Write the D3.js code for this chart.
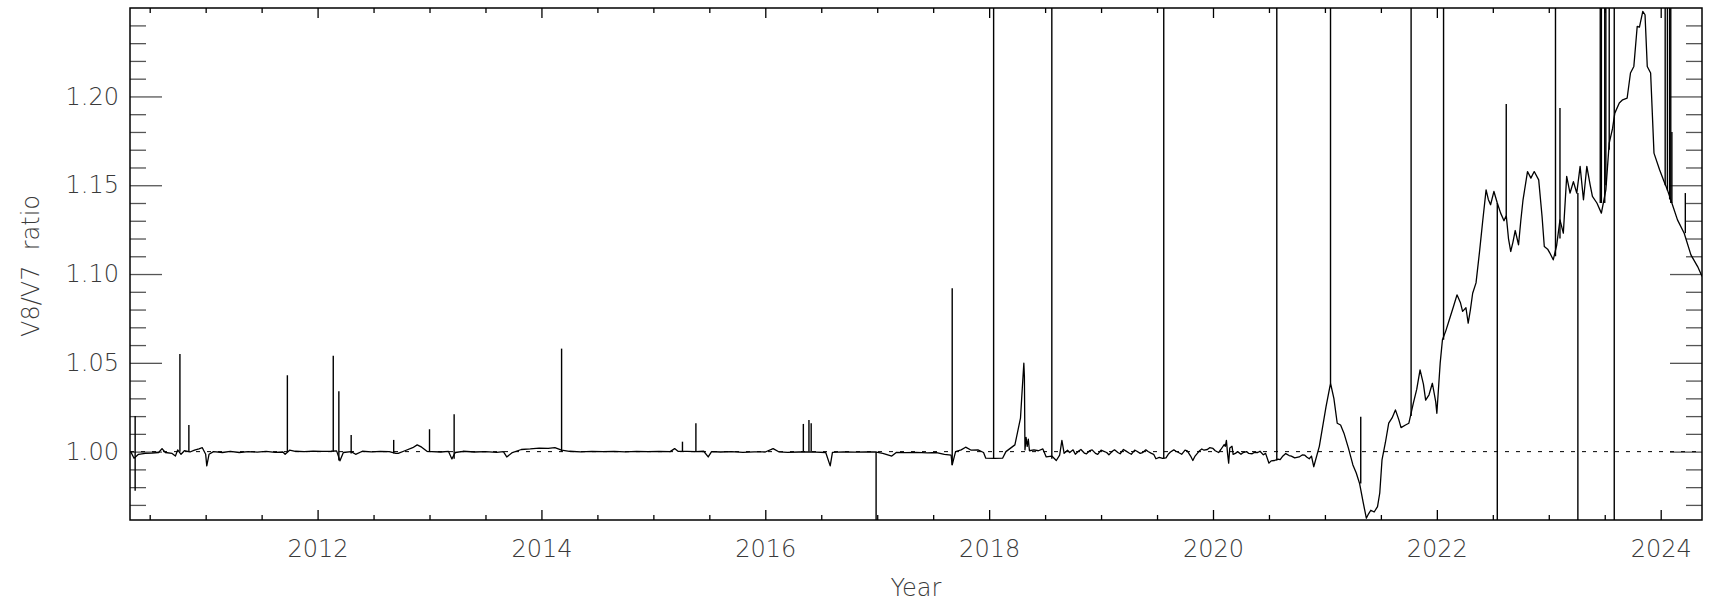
<!DOCTYPE html>
<html>
<head>
<meta charset="utf-8">
<script src="https://cdn.jsdelivr.net/npm/d3@7"></script>
<style>
  html, body { margin: 0; padding: 0; background: #fff; }
  svg { display: block; }
  text { font-family: 'DejaVu Sans', sans-serif; }
</style>
</head>
<body>
<svg id="chart" width="1713" height="603"></svg>
<script>
// V8/V7 ratio, decimal year vs ratio
const years = [
  2010.33, 2010.36, 2010.40, 2010.46, 2010.52, 2010.58, 2010.61, 2010.64, 2010.70, 2010.73,
  2010.75, 2010.78, 2010.81, 2010.86, 2010.90, 2010.94, 2010.97, 2011.00, 2011.01, 2011.03,
  2011.07, 2011.15, 2011.22, 2011.30, 2011.38, 2011.46, 2011.54, 2011.62, 2011.69, 2011.71,
  2011.75, 2011.80, 2011.88, 2011.96, 2012.04, 2012.12, 2012.17, 2012.20, 2012.23, 2012.30,
  2012.34, 2012.40, 2012.48, 2012.56, 2012.64, 2012.70, 2012.72, 2012.78, 2012.85, 2012.89,
  2012.93, 2012.98, 2013.02, 2013.10, 2013.17, 2013.20, 2013.23, 2013.30, 2013.40, 2013.50,
  2013.60, 2013.66, 2013.69, 2013.74, 2013.82, 2013.90, 2013.98, 2014.06, 2014.12, 2014.18,
  2014.25, 2014.35, 2014.45, 2014.55, 2014.65, 2014.75, 2014.85, 2014.95, 2015.05, 2015.15,
  2015.19, 2015.22, 2015.30, 2015.38, 2015.45, 2015.49, 2015.52, 2015.60, 2015.70, 2015.80,
  2015.90, 2016.00, 2016.07, 2016.12, 2016.20, 2016.30, 2016.38, 2016.45, 2016.54, 2016.58,
  2016.60, 2016.70, 2016.80, 2016.90, 2016.98, 2017.05, 2017.13, 2017.17, 2017.25, 2017.35,
  2017.45, 2017.53, 2017.60, 2017.66, 2017.67, 2017.70, 2017.75, 2017.79, 2017.84, 2017.90,
  2017.95, 2017.97, 2018.05, 2018.12, 2018.15, 2018.23, 2018.28, 2018.29, 2018.31, 2018.315,
  2018.32, 2018.33, 2018.34, 2018.35, 2018.36, 2018.40, 2018.44, 2018.48, 2018.51, 2018.56,
  2018.60, 2018.63, 2018.65,
  2018.67, 2018.70, 2018.72, 2018.75, 2018.77, 2018.80, 2018.82, 2018.85, 2018.87, 2018.90,
  2018.92, 2018.95, 2018.97, 2019.00, 2019.02, 2019.05, 2019.07, 2019.10, 2019.12, 2019.15,
  2019.17, 2019.20, 2019.22, 2019.25, 2019.27, 2019.30, 2019.32, 2019.35, 2019.37, 2019.40,
  2019.42, 2019.45, 2019.47, 2019.49, 2019.52, 2019.55, 2019.58, 2019.60, 2019.62, 2019.65,
  2019.67, 2019.70, 2019.72, 2019.75, 2019.77, 2019.80, 2019.82, 2019.84, 2019.86, 2019.88,
  2019.90, 2019.92, 2019.95, 2019.97, 2020.00, 2020.02, 2020.05, 2020.07, 2020.10, 2020.11,
  2020.12, 2020.13, 2020.14, 2020.15, 2020.17, 2020.18, 2020.20, 2020.22, 2020.25, 2020.27,
  2020.30, 2020.32, 2020.35, 2020.37, 2020.40, 2020.42, 2020.45, 2020.47, 2020.50, 2020.52,
  2020.55, 2020.58, 2020.60, 2020.62, 2020.65, 2020.68, 2020.70, 2020.73, 2020.77, 2020.80,
  2020.82, 2020.84, 2020.86, 2020.88, 2020.90, 2020.95,
  2021.01, 2021.05, 2021.08, 2021.11, 2021.14, 2021.17, 2021.21,
  2021.25, 2021.28, 2021.31, 2021.34, 2021.37, 2021.39, 2021.41, 2021.44, 2021.47, 2021.49,
  2021.51, 2021.54, 2021.57, 2021.60, 2021.63, 2021.66, 2021.68, 2021.72, 2021.75, 2021.79,
  2021.82, 2021.85, 2021.88, 2021.90, 2021.93, 2021.96, 2021.99, 2022.00, 2022.03, 2022.05,
  2022.08, 2022.11, 2022.15, 2022.18, 2022.21, 2022.23, 2022.26, 2022.28, 2022.30, 2022.32,
  2022.35, 2022.38, 2022.41, 2022.44, 2022.46, 2022.48, 2022.51, 2022.54, 2022.57, 2022.60,
  2022.62, 2022.64, 2022.66, 2022.68, 2022.70, 2022.73, 2022.75, 2022.77, 2022.81, 2022.84,
  2022.87, 2022.91, 2022.94, 2022.96, 2022.99, 2023.01, 2023.04, 2023.07, 2023.10, 2023.13,
  2023.16, 2023.19, 2023.22, 2023.25, 2023.28, 2023.31, 2023.34, 2023.37, 2023.39, 2023.43,
  2023.47, 2023.51, 2023.54, 2023.57, 2023.59, 2023.63, 2023.66, 2023.70, 2023.73, 2023.76,
  2023.79, 2023.81, 2023.84, 2023.86, 2023.88, 2023.91, 2023.94, 2023.99, 2024.03, 2024.06,
  2024.09, 2024.15, 2024.21, 2024.27, 2024.33, 2024.37
];
const ratio = [
  1.0000, 0.9963, 0.9985, 0.9990, 0.9992, 0.9995, 1.0017, 0.9995, 0.9990, 0.9975,
  1.0010, 0.9985, 1.0005, 0.9998, 1.0008, 1.0015, 1.0022, 0.9985, 0.9920, 0.9985,
  1.0000, 0.9995, 1.0002, 0.9995, 1.0000, 0.9997, 1.0001, 0.9996, 0.9998, 0.9985,
  1.0008, 1.0002, 1.0000, 1.0003, 1.0001, 1.0002, 1.0004, 0.9948, 0.9995, 1.0000,
  0.9985, 1.0002, 0.9999, 1.0001, 1.0000, 0.9990, 0.9990, 1.0005, 1.0022, 1.0038,
  1.0025, 1.0001, 1.0000, 0.9998, 1.0001, 0.9959, 0.9995, 1.0002, 0.9998, 1.0000,
  0.9996, 1.0000, 0.9970, 0.9995, 1.0012, 1.0015, 1.0020, 1.0018, 1.0022, 1.0008,
  1.0002, 0.9999, 1.0001, 1.0000, 1.0001, 0.9999, 1.0001, 1.0000, 1.0001, 1.0000,
  1.0017, 1.0002, 1.0001, 1.0000, 1.0002, 0.9970, 1.0000, 0.9998, 1.0000, 0.9996,
  0.9999, 0.9998, 1.0017, 0.9999, 0.9996, 0.9998, 0.9999, 0.9997, 0.9995, 0.9920,
  0.9996, 0.9999, 0.9997, 0.9999, 0.9998, 0.9990, 0.9975, 0.9995, 0.9994, 0.9996,
  0.9993, 0.9995, 0.9985, 0.9980, 0.9925, 1.0000, 1.0010, 1.0025, 1.0008, 1.0010,
  0.9995, 0.9963, 0.9962, 0.9963, 1.0000, 1.0038, 1.0188, 1.0294, 1.0498, 1.0423,
  1.0010, 1.0080, 1.0030, 1.0070, 1.0005, 1.0010, 1.0005, 1.0015, 0.9970, 0.9975,
  0.9950, 0.9980, 1.0063,
  0.9990, 1.0008, 0.9995, 1.0010, 0.9985, 1.0003, 1.0012, 0.9992, 0.9988, 1.0006,
  1.0010, 0.9990, 0.9985, 1.0008, 1.0003, 0.9995, 0.9982, 1.0002, 1.0010, 0.9995,
  0.9988, 1.0012, 1.0004, 0.9992, 0.9985, 1.0008, 1.0002, 0.9990, 0.9994, 1.0010,
  1.0001, 0.9990, 0.9985, 0.9960, 0.9968, 0.9962, 0.9965, 0.9985, 0.9998, 1.0010,
  1.0002, 0.9992, 0.9985, 1.0008, 1.0004, 0.9975, 0.9950, 0.9975, 0.9990, 1.0005,
  1.0015, 1.0008, 1.0012, 1.0022, 1.0018, 1.0005, 0.9995, 1.0012, 1.0040, 1.0030,
  1.0063, 0.9990, 0.9935, 1.0020, 1.0030, 0.9985, 0.9990, 1.0000, 0.9985, 0.9995,
  1.0000, 0.9990, 0.9988, 0.9996, 0.9995, 1.0002, 0.9982, 0.9990, 0.9935, 0.9948,
  0.9950, 0.9958, 0.9955, 0.9972, 0.9989, 0.9978, 0.9975, 0.9965, 0.9970, 0.9982,
  0.9980, 0.9968, 0.9960, 0.9975, 0.9915, 1.0030,
  1.0254, 1.0385, 1.0300, 1.0160, 1.0150, 1.0104, 1.0020,
  0.9925, 0.9880, 0.9820, 0.9720, 0.9625, 0.9650, 0.9670, 0.9660, 0.9690, 0.9767,
  0.9953, 1.0050, 1.0160, 1.0190, 1.0235, 1.0180, 1.0135, 1.0150, 1.0160, 1.0273,
  1.0350, 1.0460, 1.0380, 1.0290, 1.0320, 1.0385, 1.0280, 1.0216, 1.0500, 1.0630,
  1.0680, 1.0740, 1.0820, 1.0883, 1.0840, 1.0790, 1.0810, 1.0723, 1.0800, 1.0892,
  1.0950, 1.1118, 1.1300, 1.1474, 1.1420, 1.1390, 1.1465, 1.1400, 1.1343, 1.1300,
  1.1330, 1.1200, 1.1127, 1.1180, 1.1245, 1.1165, 1.1300, 1.1418, 1.1577, 1.1540,
  1.1577, 1.1530, 1.1324, 1.1155, 1.1140, 1.1118, 1.1080, 1.1160, 1.1305, 1.1230,
  1.1550, 1.1456, 1.1520, 1.1456, 1.1606, 1.1418, 1.1606, 1.1500, 1.1437, 1.1400,
  1.1343, 1.1474, 1.1737, 1.1820, 1.1906, 1.1963, 1.1981, 1.1990, 1.2132, 1.2169,
  1.2394, 1.2390, 1.2479, 1.2460, 1.2169, 1.2132, 1.1681, 1.1587, 1.1521, 1.1474,
  1.1418, 1.1305, 1.1230, 1.1108, 1.1042, 1.0986
];

// single-day outliers: date, low end, high end (ends past the frame get clipped)
const spikeYears = [
  2010.37, 2010.77, 2010.85, 2011.73, 2012.14, 2012.19, 2012.30, 2012.68, 2013.00, 2013.22,
  2014.18, 2015.26, 2015.38, 2016.34, 2016.39, 2016.41, 2016.99, 2017.67, 2018.04, 2018.56,
  2019.56, 2020.57, 2021.05, 2021.32, 2021.77, 2022.06, 2022.54, 2022.62, 2023.06, 2023.10,
  2023.26, 2023.46, 2023.47, 2023.50, 2023.51, 2023.54, 2023.585, 2024.04, 2024.06, 2024.08,
  2024.09, 2024.10, 2024.22
];
const spikeLow = [
  0.978, 1.000, 1.000, 1.000, 1.000, 0.995, 0.999, 0.999, 1.000, 0.996,
  1.000, 1.000, 1.000, 1.000, 1.000, 1.000, 0.950, 0.9925, 0.996, 0.996,
  0.996, 0.995, 1.0385, 0.982, 1.020, 1.063, 0.950, 1.133, 1.110, 1.120,
  0.950, 1.140, 1.140, 1.140, 1.150, 1.170, 0.950, 1.150, 1.147, 1.142,
  1.140, 1.140, 1.123
];
const spikeHigh = [
  1.020, 1.055, 1.015, 1.043, 1.054, 1.034, 1.0094, 1.0066, 1.0126, 1.021,
  1.058, 1.0056, 1.016, 1.0156, 1.0178, 1.016, 1.000, 1.092, 1.300, 1.300,
  1.300, 1.300, 1.300, 1.0197, 1.300, 1.300, 1.140, 1.1957, 1.300, 1.1935,
  1.1456, 1.300, 1.300, 1.300, 1.300, 1.300, 1.300, 1.300, 1.300, 1.300,
  1.300, 1.180, 1.1456
];

const xMajor = [2012, 2014, 2016, 2018, 2020, 2022, 2024];
const xMinor = [2010.5, 2011, 2011.5, 2012.5, 2013, 2013.5, 2014.5, 2015, 2015.5, 2016.5, 2017,
  2017.5, 2018.5, 2019, 2019.5, 2020.5, 2021, 2021.5, 2022.5, 2023, 2023.5];
const yMajor = [1.00, 1.05, 1.10, 1.15, 1.20];
const yMinor = [0.97, 0.98, 0.99, 1.01, 1.02, 1.03, 1.04, 1.06, 1.07, 1.08, 1.09, 1.11, 1.12,
  1.13, 1.14, 1.16, 1.17, 1.18, 1.19, 1.21, 1.22, 1.23, 1.24];
const xDomain = [2010.324, 2024.369];
const yDomain = [0.9615, 1.2498];
const refLevel = 1.0;

const svg = d3.select('#chart');
const margin = { left: 130, right: 11, top: 8, bottom: 83 };
const W = 1713, H = 603;
const x = d3.scaleLinear().domain(xDomain).range([margin.left, W - margin.right]);
const y = d3.scaleLinear().domain(yDomain).range([H - margin.bottom, margin.top]);

svg.append('defs').append('clipPath').attr('id', 'plot')
  .append('rect')
  .attr('x', margin.left).attr('y', margin.top)
  .attr('width', W - margin.left - margin.right)
  .attr('height', H - margin.top - margin.bottom);

const textColor = '#3a3a3a';

function styleAxis(g, color) {
  g.select('.domain').remove();
  g.selectAll('.tick line').attr('stroke', color).attr('stroke-width', 1.3);
  g.selectAll('.tick text')
    .attr('fill', textColor)
    .attr('font-size', 24)
    .attr('font-weight', 200)
    .attr('font-family', "'DejaVu Sans', sans-serif");
}

const bottomY = H - margin.bottom;
// bottom axis: major with labels, minor unlabeled
svg.append('g').attr('transform', `translate(0,${bottomY})`)
  .call(d3.axisBottom(x).tickValues(xMajor).tickFormat(d3.format('d')).tickSize(-10).tickPadding(20))
  .call(g => styleAxis(g, '#000'));
svg.append('g').attr('transform', `translate(0,${bottomY})`)
  .call(d3.axisBottom(x).tickValues(xMinor).tickFormat('').tickSize(-5))
  .call(g => styleAxis(g, '#000'));
// top axis mirrors
svg.append('g').attr('transform', `translate(0,${margin.top})`)
  .call(d3.axisTop(x).tickValues(xMajor).tickFormat('').tickSize(-10))
  .call(g => styleAxis(g, '#000'));
svg.append('g').attr('transform', `translate(0,${margin.top})`)
  .call(d3.axisTop(x).tickValues(xMinor).tickFormat('').tickSize(-5))
  .call(g => styleAxis(g, '#000'));

// left axis
svg.append('g').attr('transform', `translate(${margin.left},0)`)
  .call(d3.axisLeft(y).tickValues(yMajor).tickFormat(d3.format('.2f')).tickSize(-32).tickPadding(11))
  .call(g => styleAxis(g, '#555'));
svg.append('g').attr('transform', `translate(${margin.left},0)`)
  .call(d3.axisLeft(y).tickValues(yMinor).tickFormat('').tickSize(-16))
  .call(g => styleAxis(g, '#555'));
// right axis mirrors
svg.append('g').attr('transform', `translate(${W - margin.right},0)`)
  .call(d3.axisRight(y).tickValues(yMajor).tickFormat('').tickSize(-32))
  .call(g => styleAxis(g, '#555'));
svg.append('g').attr('transform', `translate(${W - margin.right},0)`)
  .call(d3.axisRight(y).tickValues(yMinor).tickFormat('').tickSize(-16))
  .call(g => styleAxis(g, '#555'));

const plot = svg.append('g').attr('clip-path', 'url(#plot)');

// dotted reference at 1.00
plot.append('line')
  .attr('x1', x(xDomain[0])).attr('x2', x(xDomain[1]))
  .attr('y1', y(refLevel)).attr('y2', y(refLevel))
  .attr('stroke', '#000').attr('stroke-width', 1)
  .attr('stroke-dasharray', '4,7');

const series = years.map((t, i) => ({ t, v: ratio[i] }));
const line = d3.line().x(d => x(d.t)).y(d => y(d.v));
plot.append('path')
  .datum(series)
  .attr('d', line)
  .attr('fill', 'none')
  .attr('stroke', '#000')
  .attr('stroke-width', 1.3)
  .attr('stroke-linejoin', 'round');

const spikes = spikeYears.map((t, i) => ({ t, lo: spikeLow[i], hi: spikeHigh[i] }));
plot.selectAll('line.spike')
  .data(spikes)
  .join('line')
  .attr('class', 'spike')
  .attr('x1', d => x(d.t)).attr('x2', d => x(d.t))
  .attr('y1', d => y(d.lo)).attr('y2', d => y(d.hi))
  .attr('stroke', '#000')
  .attr('stroke-width', 1.4);

// frame
svg.append('rect')
  .attr('x', margin.left).attr('y', margin.top)
  .attr('width', W - margin.left - margin.right)
  .attr('height', H - margin.top - margin.bottom)
  .attr('fill', 'none')
  .attr('stroke', '#000')
  .attr('stroke-width', 1.5);

// axis titles
svg.append('text')
  .attr('x', (margin.left + W - margin.right) / 2)
  .attr('y', 596)
  .attr('text-anchor', 'middle')
  .attr('font-size', 24).attr('font-weight', 200)
  .attr('fill', textColor)
  .text('Year');

svg.append('text')
  .attr('transform', `translate(39,${(margin.top + H - margin.bottom) / 2 + 2}) rotate(-90)`)
  .attr('text-anchor', 'middle')
  .attr('font-size', 24).attr('font-weight', 200)
  .attr('fill', textColor)
  .style('white-space', 'pre')
  .text('V8/V7  ratio');
</script>
</body>
</html>
